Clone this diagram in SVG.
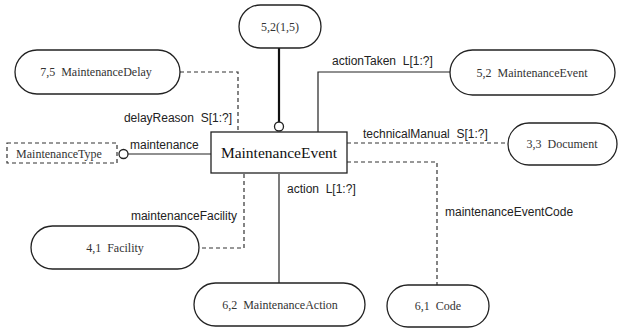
<svg xmlns="http://www.w3.org/2000/svg" width="626" height="330" viewBox="0 0 626 330">
<style>
text{white-space:pre}
.node{fill:#fff;stroke:#222;stroke-width:1.3}
.dnode{fill:#fff;stroke:#333;stroke-width:1.2;stroke-dasharray:4,3}
.nt{font-family:"Liberation Serif",serif;font-size:12px;fill:#333;text-anchor:middle}
.big{font-family:"Liberation Serif",serif;font-size:15.5px;fill:#111;text-anchor:middle}
.lbl{font-family:"Liberation Sans",Arial,sans-serif;font-size:12px;fill:#222}
.solid{fill:none;stroke:#222;stroke-width:1.2}
.thick{fill:none;stroke:#111;stroke-width:2.2}
.dash{fill:none;stroke:#333;stroke-width:1.2;stroke-dasharray:4,3}
.circ{fill:#fff;stroke:#222;stroke-width:1.3}
</style>
<rect width="626" height="330" fill="#fff"/>
<g id="connectors">
  <line class="thick" x1="279" y1="48" x2="279" y2="122"/>
  <circle class="circ" cx="279" cy="126.5" r="4.5"/>
  <polyline class="dash" points="180,72 238,72 238,132"/>
  <text class="lbl" x="232" y="122" text-anchor="end" xml:space="preserve">delayReason  S[1:?]</text>
  <line class="solid" x1="128" y1="154" x2="211" y2="154"/>
  <circle class="circ" cx="123.5" cy="154" r="4.5"/>
  <text class="lbl" x="130" y="149">maintenance</text>
  <polyline class="solid" points="318,132 318,72 450,72"/>
  <text class="lbl" x="332" y="65" xml:space="preserve">actionTaken  L[1:?]</text>
  <line class="dash" x1="347" y1="143" x2="508" y2="143"/>
  <text class="lbl" x="363" y="138" xml:space="preserve">technicalManual  S[1:?]</text>
  <polyline class="dash" points="347,162 437,162 437,285"/>
  <text class="lbl" x="445" y="216">maintenanceEventCode</text>
  <line class="solid" x1="279" y1="174" x2="279" y2="283"/>
  <text class="lbl" x="287" y="193" xml:space="preserve">action  L[1:?]</text>
  <polyline class="dash" points="244,174 244,248 199,248"/>
  <text class="lbl" x="237" y="220" text-anchor="end">maintenanceFacility</text>
</g>
<g id="main">
  <rect class="node" x="211" y="132" width="136" height="41"/>
  <text class="big" x="279" y="158">MaintenanceEvent</text>
</g>
<g id="top">
  <rect class="node" x="239" y="5" width="82" height="43" rx="21.5"/>
  <text class="nt" x="280" y="31">5,2(1,5)</text>
</g>
<g id="delay">
  <rect class="node" x="15" y="50" width="165" height="44" rx="22"/>
  <text class="nt" x="96" y="76" xml:space="preserve">7,5  MaintenanceDelay</text>
</g>
<g id="mtype">
  <rect class="dnode" x="7" y="143" width="110" height="20"/>
  <text class="nt" x="59" y="157.5">MaintenanceType</text>
</g>
<g id="mevent">
  <rect class="node" x="450" y="50" width="165" height="45" rx="22.5"/>
  <text class="nt" x="532" y="77" xml:space="preserve">5,2  MaintenanceEvent</text>
</g>
<g id="document">
  <rect class="node" x="508" y="123" width="109" height="42" rx="21"/>
  <text class="nt" x="562" y="148" xml:space="preserve">3,3  Document</text>
</g>
<g id="facility">
  <rect class="node" x="31" y="226" width="168" height="43" rx="21.5"/>
  <text class="nt" x="115" y="252" xml:space="preserve">4,1  Facility</text>
</g>
<g id="action">
  <rect class="node" x="194" y="283" width="171" height="43" rx="21.5"/>
  <text class="nt" x="280" y="309" xml:space="preserve">6,2  MaintenanceAction</text>
</g>
<g id="code">
  <rect class="node" x="387" y="285" width="102" height="42" rx="21"/>
  <text class="nt" x="438" y="310" xml:space="preserve">6,1  Code</text>
</g>
</svg>
